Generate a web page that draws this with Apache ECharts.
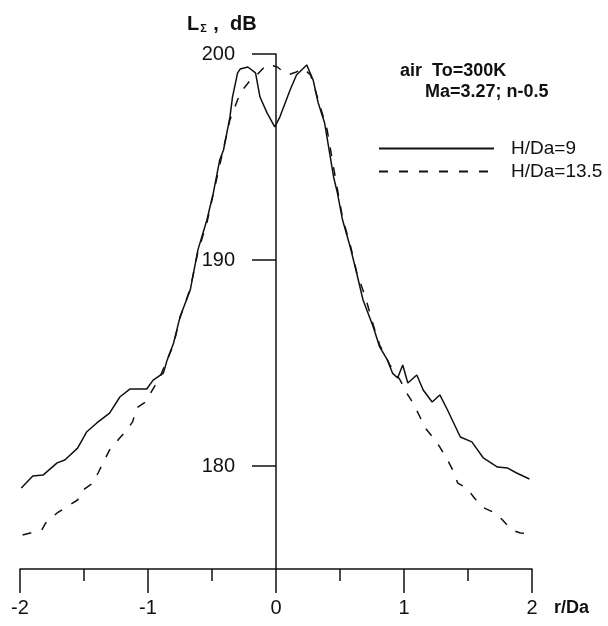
<!DOCTYPE html>
<html>
<head>
<meta charset="utf-8">
<script src="https://cdn.jsdelivr.net/npm/echarts@6/dist/echarts.min.js"></script>
<style>
html,body{margin:0;padding:0;background:#fff;}
#c{width:608px;height:626px;}
</style>
</head>
<body>
<div id="c"></div>
<script>
// ---- data ----
const seriesNames = ['H/Da=9', 'H/Da=13.5'];
const xTickLabels = [-2, -1, 0, 1, 2];
const yTickLabels = [180, 190, 200];

const xSolid = [-1.99,-1.90,-1.82,-1.71,-1.65,-1.55,-1.48,-1.40,-1.30,-1.22,-1.14,-1.01,-0.96,-0.88,-0.85,-0.80,-0.75,-0.67,-0.61,-0.54,-0.49,-0.44,-0.41,-0.36,-0.34,-0.30,-0.28,-0.22,-0.16,-0.125,-0.07,-0.01,0.03,0.11,0.16,0.24,0.29,0.33,0.38,0.45,0.48,0.52,0.58,0.63,0.68,0.76,0.81,0.87,0.91,0.95,0.99,1.03,1.10,1.15,1.22,1.28,1.34,1.44,1.53,1.62,1.73,1.81,1.88,1.98];
const ySolid = [178.93,179.51,179.56,180.15,180.29,180.87,181.65,182.09,182.57,183.35,183.74,183.74,184.17,184.51,185.15,185.97,187.23,188.54,190.49,191.94,193.25,194.85,195.34,196.94,197.91,199.08,199.27,199.37,199.08,197.91,197.14,196.46,196.94,198.25,198.98,199.47,198.74,197.62,196.65,194.03,193.25,191.94,190.63,189.37,188.06,186.75,185.78,185.15,184.51,184.27,184.90,184.03,184.42,183.69,183.11,183.45,182.72,181.41,181.17,180.39,179.95,179.90,179.66,179.37];

const xDashed = [-1.98,-1.83,-1.80,-1.71,-1.65,-1.55,-1.51,-1.43,-1.39,-1.34,-1.30,-1.18,-1.12,-1.09,-1.02,-0.91,-0.80,-0.75,-0.67,-0.61,-0.54,-0.49,-0.44,-0.36,-0.28,-0.20,-0.15,-0.07,0.01,0.09,0.16,0.21,0.27,0.33,0.40,0.46,0.52,0.58,0.63,0.70,0.76,0.81,0.89,0.97,1.03,1.07,1.125,1.16,1.23,1.28,1.34,1.38,1.42,1.49,1.55,1.61,1.71,1.77,1.84,1.91,1.98];
const yDashed = [176.65,176.89,177.23,177.72,177.96,178.35,178.83,179.17,179.66,180.29,180.78,181.65,182.14,182.82,183.11,184.27,185.90,187.20,188.60,190.40,191.80,193.20,194.60,196.80,198.10,198.74,198.98,199.51,199.37,198.98,199.13,199.32,198.98,197.77,196.31,194.13,192.04,190.73,189.42,188.16,186.84,185.87,184.90,184.17,183.45,183.06,182.38,181.89,181.36,180.92,180.29,179.81,179.17,178.93,178.45,178.01,177.72,177.38,176.89,176.75,176.70];

const pairs = (xs, ys) => xs.map((x, i) => [x, ys[i]]);

const FONT = 'Liberation Sans';
const chart = echarts.init(document.getElementById('c'), null, {renderer: 'canvas'});
chart.setOption({
  backgroundColor: '#fff',
  animation: false,
  grid: {left: 20, right: 76, top: 54, bottom: 57, containLabel: false, outerBoundsMode: 'none'},
  xAxis: {
    type: 'value', min: xTickLabels[0], max: xTickLabels[xTickLabels.length - 1], interval: 1,
    axisLine: {onZero: false, lineStyle: {color: '#111', width: 1.5}},
    axisTick: {inside: false, length: 24, lineStyle: {color: '#111', width: 1.5}},
    minorTick: {show: true, splitNumber: 2, length: 12, lineStyle: {color: '#111', width: 1.5}},
    splitLine: {show: false},
    axisLabel: {margin: 29, color: '#111', fontFamily: FONT, fontSize: 20},
    name: 'r/Da', nameLocation: 'end', nameGap: 22,
    nameTextStyle: {color: '#111', fontFamily: FONT, fontSize: 18, fontWeight: 'bold', verticalAlign: 'top', padding: [30, 0, 0, 0]}
  },
  yAxis: {
    type: 'value', min: 175, max: 200, position: 'left', offset: -256,
    axisLine: {show: true, onZero: false, lineStyle: {color: '#111', width: 1.5}},
    axisTick: {show: true, inside: false, length: 24, customValues: yTickLabels, lineStyle: {color: '#111', width: 1.5}},
    axisLabel: {margin: 41, color: '#111', fontFamily: FONT, fontSize: 20, customValues: yTickLabels, padding: [3, 0, 0, 0]},
    splitLine: {show: false}
  },
  legend: {
    orient: 'vertical', left: 373, top: 134, itemWidth: 115, itemHeight: 14, itemGap: 4,
    data: seriesNames,
    itemStyle: {opacity: 0},
    textStyle: {color: '#111', fontFamily: FONT, fontSize: 19, padding: [0, 0, 0, 12]}
  },
  graphic: [
    {type: 'text', left: 187, top: 14, style: {
      rich: {a: {fontFamily: FONT, fontSize: 20, fontWeight: 'bold', fill: '#111'},
             s: {fontFamily: FONT, fontSize: 11, fontWeight: 'bold', fill: '#111', padding: [9, 1, 0, 1]}},
      text: '{a|L}{s|Σ}{a| ,  dB}'}},
    {type: 'text', left: 400, top: 62, style: {text: 'air  To=300K', font: 'bold 18px "Liberation Sans"', fill: '#111'}},
    {type: 'text', left: 425, top: 83, style: {text: 'Ma=3.27; n-0.5', font: 'bold 18px "Liberation Sans"', fill: '#111'}}
  ],
  series: [
    {name: seriesNames[0], type: 'line', data: pairs(xSolid, ySolid), showSymbol: false, symbol: 'none',
     lineStyle: {color: '#111', width: 1.5, type: 'solid'}, itemStyle: {color: '#111'}},
    {name: seriesNames[1], type: 'line', data: pairs(xDashed, yDashed), showSymbol: false, symbol: 'none',
     lineStyle: {color: '#111', width: 1.5, type: [9, 11]}, itemStyle: {color: '#111'}}
  ]
});
</script>
</body>
</html>
